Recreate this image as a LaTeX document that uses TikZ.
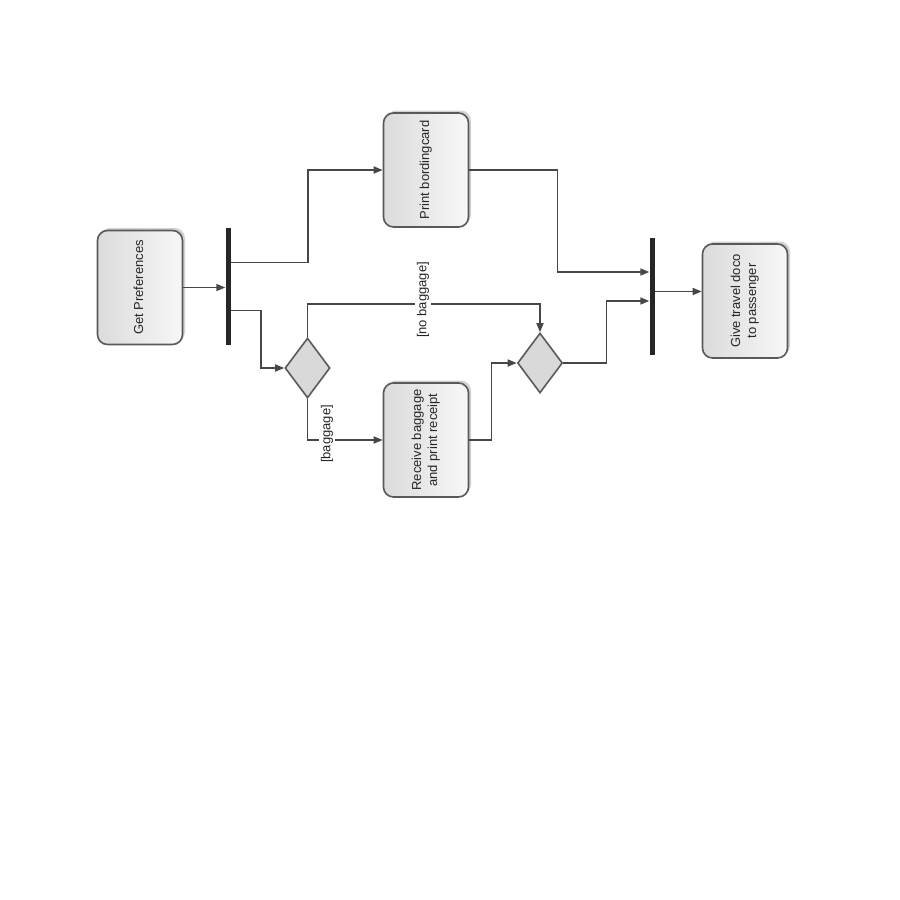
\documentclass[tikz,border=0pt]{standalone}
\usepackage{fontspec}
\setmainfont{Liberation Sans}
\usepackage{graphicx}
\usetikzlibrary{shapes.geometric,arrows.meta,shadows}
\newcommand{\rtxt}[1]{\rotatebox{90}{\begin{tabular}{@{}c@{}}#1\end{tabular}}}
\begin{document}
\begin{tikzpicture}[x=1pt,y=-1pt,
 act/.style={rectangle, rounded corners=10pt, draw=black!65, line width=1.6pt,
   left color=black!14, right color=black!3, minimum width=85pt, minimum height=114pt,
   drop shadow={shadow xshift=2.5pt, shadow yshift=2.5pt, fill=black!35, opacity=0.5},
   font=\fontsize{13}{16}\selectfont, text=black!85, inner sep=0pt},
 bar/.style={fill=black!85, inner sep=0pt, minimum width=5pt, minimum height=117pt},
 dec/.style={diamond, draw=black!65, line width=1.6pt, fill=black!15, inner sep=0pt,
   minimum width=45pt, minimum height=60pt, aspect=0.75},
 lbl/.style={fill=white, inner sep=1.5pt, font=\fontsize{13}{16}\selectfont, rotate=90, text=black!85},
 arr/.style={draw=black!72, line width=1.6pt, -{Triangle[length=9pt,width=7pt]}}]
\useasboundingbox (0,0) rectangle (900,900);
\node[act] (gp) at (140,287.5) {\rtxt{Get Preferences}};
\node[act] (print) at (426,170) {\rtxt{Print bordingcard}};
\node[act] (recv) at (426,440) {\rtxt{Receive baggage\\and print receipt}};
\node[act] (gt) at (745,301) {\rtxt{Give travel doco\\to passenger}};
\node[bar] (fork1) at (228,286.5) {};
\node[bar] (fork2) at (652,296.5) {};
\node[dec] (d1) at (307.5,368) {};
\node[dec] (d2) at (540,363) {};
\draw[arr] (gp.east) -- (gp.east -| fork1.west);
\draw[arr] ([yshift=24pt]fork1.east) -- ++(77,0) |- (print.west);
\draw[arr] ([yshift=-24pt]fork1.east) -- ++(30,0) |- (d1.west);
\draw[arr] (d1.north) -- ++(0,-33) -| (d2.north);
\draw[arr] (d1.south) |- (recv.west);
\draw[arr] (recv.east) -- ++(22,0) |- (d2.west);
\draw[arr] (print.east) -- ++(88,0) |- ([yshift=24.5pt]fork2.west);
\draw[arr] (d2.east) -- ++(43,0) |- ([yshift=-4.5pt]fork2.west);
\draw[arr] ([yshift=5pt]fork2.east) -- ([yshift=5pt]fork2.east -| gt.west);
\node[lbl] (nob) at (423,300) {[no baggage]};
\node[lbl] (bag) at (327,434) {[baggage]};
\end{tikzpicture}
\end{document}
